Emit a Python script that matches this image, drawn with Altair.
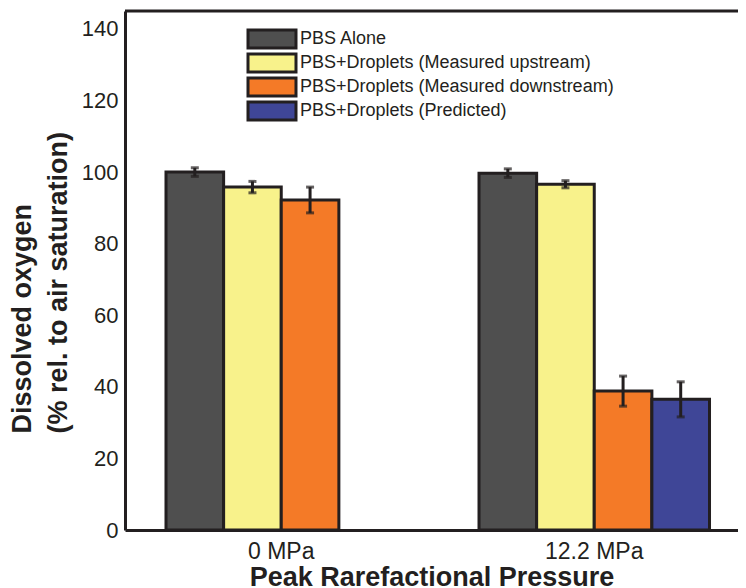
import altair as alt
import pandas as pd

# ---- data ----
groups = ["0 MPa", "12.2 MPa"]
series = [
    "PBS Alone",
    "PBS+Droplets (Measured upstream)",
    "PBS+Droplets (Measured downstream)",
    "PBS+Droplets (Predicted)",
]
colors = ["#4f4f4f", "#f8f28b", "#f47a27", "#3f4697"]
mean_0mpa = [100.0, 95.8, 92.2, None]
mean_12mpa = [99.7, 96.6, 38.8, 36.5]
err_0mpa = [1.2, 1.6, 3.6, None]
err_12mpa = [1.2, 1.0, 4.2, 4.9]
y_ticks = [0, 20, 40, 60, 80, 100, 120, 140]

rows = []
for g, means, errs in [(groups[0], mean_0mpa, err_0mpa), (groups[1], mean_12mpa, err_12mpa)]:
    for s, m, e in zip(series, means, errs):
        if m is None:
            continue
        rows.append({"pressure": g, "series": s, "mean": m, "lo": m - e, "hi": m + e})
df = pd.DataFrame(rows)

INK = "#231f20"
FONT = "Liberation Sans"

x_enc = alt.X(
    "pressure:N",
    sort=groups,
    scale=alt.Scale(domain=groups, paddingInner=0.2636, paddingOuter=0.111, align=0.59),
    axis=alt.Axis(title="Peak Rarefactional Pressure", labelAngle=0, labelPadding=10,
                  labelFontSize=23, titlePadding=1),
)
xo_enc = alt.XOffset("series:N", sort=series, scale=alt.Scale(domain=series, paddingInner=0, paddingOuter=0))

base = alt.Chart(df)

bars = base.mark_bar(stroke=INK, strokeWidth=3).encode(
    x=x_enc,
    xOffset=xo_enc,
    y=alt.Y(
        "mean:Q",
        scale=alt.Scale(domain=[0, 145], nice=False),
        axis=alt.Axis(values=y_ticks, title=["Dissolved oxygen", "(% rel. to air saturation)"],
                      labelPadding=7, titlePadding=9, titleAlign="left", titleY=422),
    ),
    color=alt.Color(
        "series:N",
        sort=series,
        scale=alt.Scale(domain=series, range=colors),
        legend=alt.Legend(
            title=None,
            orient="none",
            legendX=138,
            legendY=19,
            symbolType="M-5.333,-2H5.333V2H-5.333Z",
            symbolSize=81,
            symbolStrokeColor=INK,
            symbolStrokeWidth=3,
            symbolOpacity=1,
            labelFont=FONT,
            labelFontSize=18,
            labelColor=INK,
            labelOffset=19,
            rowPadding=-7,
            labelLimit=0,
        ),
    ),
)

err = base.mark_rule(strokeWidth=3, color=INK).encode(
    x=x_enc, xOffset=xo_enc, y=alt.Y("lo:Q"), y2="hi:Q"
)
cap_lo = base.mark_tick(orient="horizontal", size=8, thickness=3, color=INK).encode(
    x=x_enc, xOffset=xo_enc, y=alt.Y("lo:Q")
)
cap_hi = base.mark_tick(orient="horizontal", size=8, thickness=3, color=INK).encode(
    x=x_enc, xOffset=xo_enc, y=alt.Y("hi:Q")
)
top_line = alt.Chart(pd.DataFrame({"k": [0]})).mark_rule(color=INK, strokeWidth=3).encode(
    y=alt.value(0)
)

chart = (
    alt.layer(bars, err, cap_lo, cap_hi, top_line)
    .properties(
        width=613,
        height=519,
        autosize=alt.AutoSizeParams(type="none"),
        padding={"left": 117, "top": 3, "right": 0, "bottom": 58},
    )
    .configure_view(stroke=None)
    .configure_axis(
        domainColor=INK,
        domainWidth=3,
        ticks=False,
        grid=False,
        labelFont=FONT,
        labelFontSize=22,
        labelColor=INK,
        titleFont=FONT,
        titleFontSize=27,
        titleFontWeight="bold",
        titleColor=INK,
        titleLineHeight=36,
    )
)

chart.save("out.html", embed_options={"renderer": "svg", "actions": False})
